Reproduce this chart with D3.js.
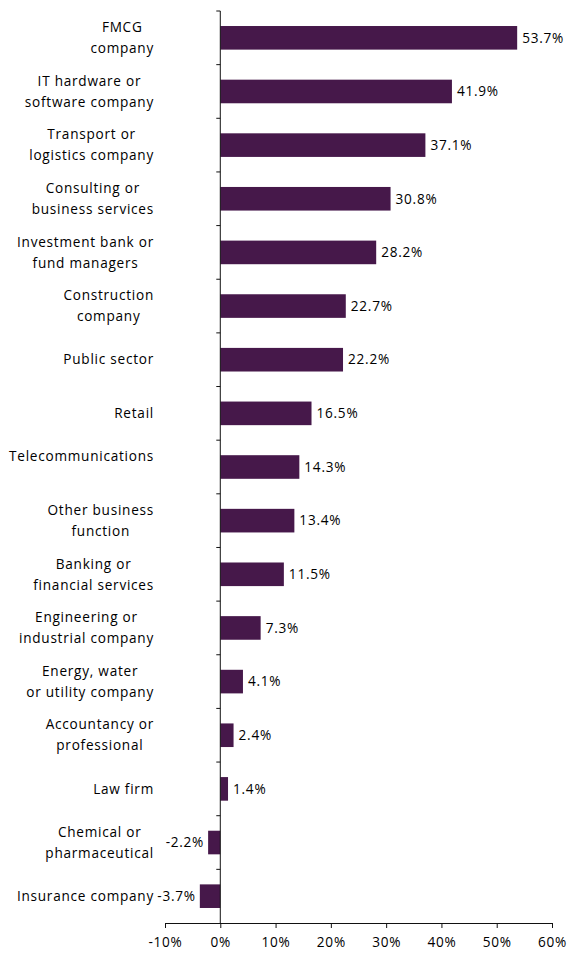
<!DOCTYPE html>
<html>
<head>
<meta charset="utf-8">
<script src="https://cdn.jsdelivr.net/npm/d3@7"></script>
<style>
  html, body { margin: 0; padding: 0; background: #fff; }
  svg { display: block; }
  text { font-family: "Open Sans", "DejaVu Sans", sans-serif; fill: #000; }
</style>
</head>
<body>
<svg id="chart" width="572" height="955"></svg>
<script>
// Sector labels (each entry is the list of lines drawn for that row)
const categories = [
  ["FMCG", "company"],
  ["IT hardware or", "software company"],
  ["Transport or", "logistics company"],
  ["Consulting or", "business services"],
  ["Investment bank or", "fund managers"],
  ["Construction", "company"],
  ["Public sector"],
  ["Retail"],
  ["Telecommunications", ""],
  ["Other business", "function"],
  ["Banking or", "financial services"],
  ["Engineering or", "industrial company"],
  ["Energy, water", "or utility company"],
  ["Accountancy or", "professional"],
  ["Law firm"],
  ["Chemical or", "pharmaceutical"],
  ["Insurance company"]
];
// Net change per sector, in percent
const values = [53.7, 41.9, 37.1, 30.8, 28.2, 22.7, 22.2, 16.5, 14.3, 13.4, 11.5, 7.3, 4.1, 2.4, 1.4, -2.2, -3.7];
// Horizontal axis ticks, in percent
const tickValues = [-10, 0, 10, 20, 30, 40, 50, 60];

const svg = d3.select("#chart");
const barColor = "#46184a";
const labelRight = 154;
const fontSize = "13.6px";
const spacing = "0.75px";

const ids = categories.map((c, i) => i);

const x = d3.scaleLinear().domain([-10, 60]).range([165, 552]);
const y = d3.scaleBand().domain(ids).range([11, 923]).paddingInner(0.56).paddingOuter(0.28);
const yTicks = d3.scaleBand().domain(ids).range([11, 923]);

// Bars
svg.append("g").selectAll("rect")
  .data(values)
  .join("rect")
  .attr("x", d => x(Math.min(0, d)))
  .attr("width", d => Math.abs(x(d) - x(0)))
  .attr("y", (d, i) => y(i))
  .attr("height", y.bandwidth())
  .attr("fill", barColor);

// Value labels
svg.append("g").selectAll("text")
  .data(values)
  .join("text")
  .attr("x", d => d >= 0 ? x(d) + 5 : x(d) - 4)
  .attr("y", (d, i) => y(i) + y.bandwidth() / 2)
  .attr("dy", "0.35em")
  .attr("text-anchor", d => d >= 0 ? "start" : "end")
  .style("font-size", fontSize)
  .style("letter-spacing", spacing)
  .text(d => d.toFixed(1) + "%");

// Vertical category axis (line at zero with outside ticks between rows)
const axisG = svg.append("g");
axisG.append("line")
  .attr("x1", x(0)).attr("x2", x(0))
  .attr("y1", 11).attr("y2", 923)
  .attr("stroke", "#111").attr("stroke-width", 1);
const boundaries = ids.map(i => yTicks(i));
axisG.selectAll("line.ct")
  .data(boundaries)
  .join("line")
  .attr("class", "ct")
  .attr("x1", x(0) - 4).attr("x2", x(0))
  .attr("y1", d => d).attr("y2", d => d)
  .attr("stroke", "#111");

// Category labels: each block of lines centred on itself, block right-aligned
const labelG = svg.append("g");
categories.forEach((lines, i) => {
  const cy = yTicks(i) + yTicks.bandwidth() / 2;
  const g = labelG.append("g");
  const texts = lines.map((ln, k) => {
    const off = lines.length === 1 ? 0 : (k === 0 ? -10.5 : 10.5);
    return g.append("text")
      .attr("y", cy + off)
      .attr("dy", "0.35em")
      .attr("text-anchor", "middle")
      .style("font-size", fontSize)
      .style("letter-spacing", spacing)
      .text(ln);
  });
  const w = d3.max(texts, t => t.node().getComputedTextLength());
  texts.forEach(t => t.attr("x", labelRight - w / 2));
});

// Horizontal value axis
const xAxis = d3.axisBottom(x)
  .tickValues(tickValues)
  .tickSize(5)
  .tickFormat(d => d + "%");
const gx = svg.append("g")
  .attr("transform", "translate(0,923)")
  .call(xAxis);
gx.select(".domain").attr("stroke", "#111");
gx.selectAll(".tick line").attr("stroke", "#111");
gx.selectAll(".tick text")
  .attr("y", 14)
  .style("font-size", fontSize)
  .style("letter-spacing", spacing)
  .style("font-family", "'Open Sans', 'DejaVu Sans', sans-serif")
  .attr("fill", "#000");
</script>
</body>
</html>
